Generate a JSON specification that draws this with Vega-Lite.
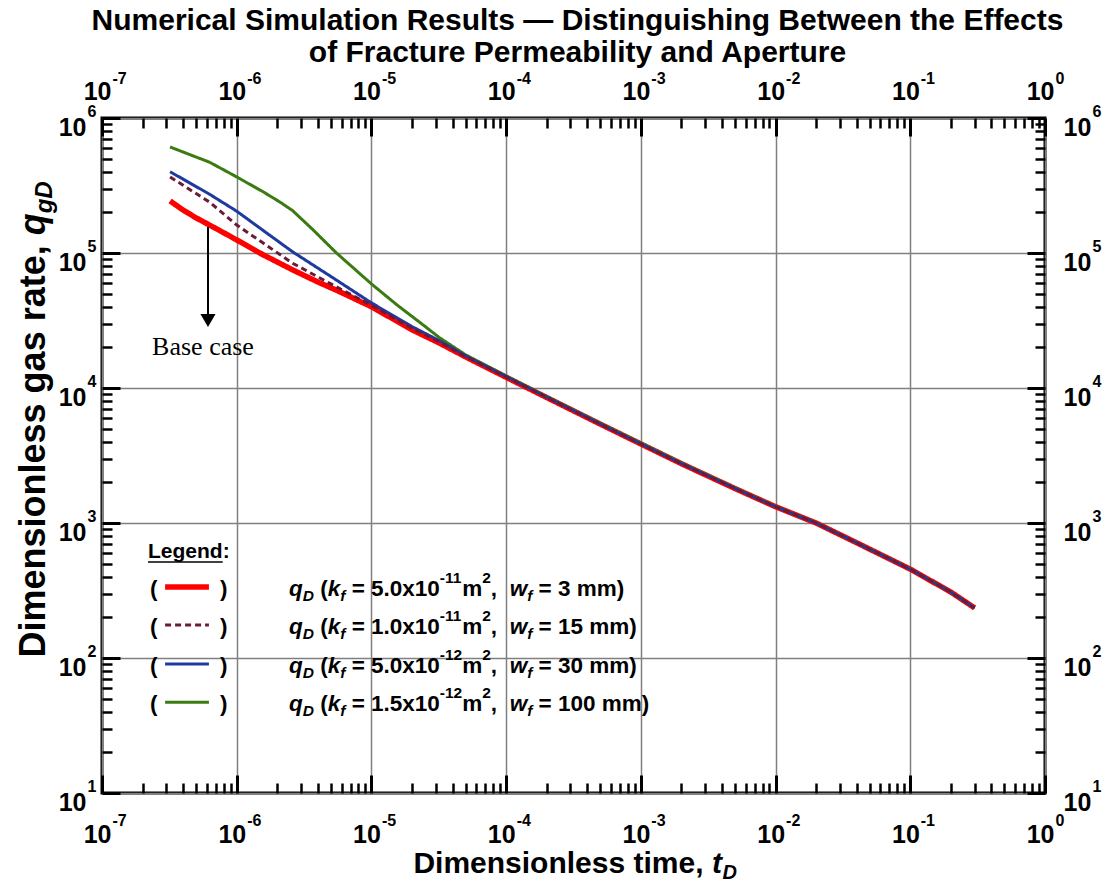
{
  "$schema": "https://vega.github.io/schema/vega-lite/v6.json",
  "width": 943,
  "height": 675,
  "autosize": "none",
  "padding": {"left": 102, "top": 118, "right": 62, "bottom": 95},
  "background": "white",
  "title": {
    "text": ["Numerical Simulation Results — Distinguishing Between the Effects", "of Fracture Permeability and Aperture"],
    "fontSize": 30, "fontWeight": "bold", "font": "Liberation Sans", "color": "black",
    "anchor": "middle", "frame": "group", "lineHeight": 32, "offset": 2, "dx": 4
  },
  "config": {
    "view": {"stroke": "black", "strokeWidth": 3},
    "font": "Liberation Sans",
    "axis": {
      "labelFont": "Liberation Sans", "labelFontWeight": "bold", "labelColor": "black",
      "titleFont": "Liberation Sans", "titleFontWeight": "bold", "titleColor": "black",
      "labelFlush": false, "labelOverlap": false, "labelBound": false,
      "domain": false, "grid": false, "ticks": false,
      "tickColor": "black", "tickWidth": 2.5
    }
  },
  "datasets": {
    "lines": [
      {"series": "A", "t": 3.2e-7, "q": 243000}, {"series": "A", "t": 4e-7, "q": 208000}, {"series": "A", "t": 5e-7, "q": 182000}, {"series": "A", "t": 7e-7, "q": 152000}, {"series": "A", "t": 1e-6, "q": 125000}, {"series": "A", "t": 1.57e-6, "q": 97000}, {"series": "A", "t": 2.6e-6, "q": 75000}, {"series": "A", "t": 4e-6, "q": 61000}, {"series": "A", "t": 5.5e-6, "q": 53000}, {"series": "A", "t": 1e-5, "q": 40000}, {"series": "A", "t": 2e-5, "q": 27000}, {"series": "A", "t": 3.2e-5, "q": 21500}, {"series": "A", "t": 5e-5, "q": 17000}, {"series": "A", "t": 1e-4, "q": 12000}, {"series": "A", "t": 2e-4, "q": 8500}, {"series": "A", "t": 5e-4, "q": 5400}, {"series": "A", "t": 1e-3, "q": 3850}, {"series": "A", "t": 2e-3, "q": 2750}, {"series": "A", "t": 5e-3, "q": 1800}, {"series": "A", "t": 1e-2, "q": 1320}, {"series": "A", "t": 2e-2, "q": 1000}, {"series": "A", "t": 5e-2, "q": 640}, {"series": "A", "t": 0.1, "q": 455}, {"series": "A", "t": 0.2, "q": 308}, {"series": "A", "t": 0.3, "q": 235},
      {"series": "D", "t": 3.2e-7, "q": 610000}, {"series": "D", "t": 6.3e-7, "q": 470000}, {"series": "D", "t": 1e-6, "q": 366000}, {"series": "D", "t": 1.57e-6, "q": 284000}, {"series": "D", "t": 2.1e-6, "q": 238000}, {"series": "D", "t": 2.6e-6, "q": 206000}, {"series": "D", "t": 3.7e-6, "q": 148000}, {"series": "D", "t": 5.5e-6, "q": 100000}, {"series": "D", "t": 1e-5, "q": 59000}, {"series": "D", "t": 1.55e-5, "q": 41200}, {"series": "D", "t": 2.4e-5, "q": 29500}, {"series": "D", "t": 3.2e-5, "q": 23600}, {"series": "D", "t": 5e-5, "q": 17600}, {"series": "D", "t": 1e-4, "q": 12300}, {"series": "D", "t": 2e-4, "q": 8650}, {"series": "D", "t": 5e-4, "q": 5480}, {"series": "D", "t": 1e-3, "q": 3920}, {"series": "D", "t": 2e-3, "q": 2790}, {"series": "D", "t": 5e-3, "q": 1820}, {"series": "D", "t": 1e-2, "q": 1325}, {"series": "D", "t": 2e-2, "q": 1002}, {"series": "D", "t": 5e-2, "q": 641}, {"series": "D", "t": 0.1, "q": 456}, {"series": "D", "t": 0.2, "q": 308}, {"series": "D", "t": 0.3, "q": 235},
      {"series": "C", "t": 3.2e-7, "q": 400000}, {"series": "C", "t": 6.3e-7, "q": 272000}, {"series": "C", "t": 1e-6, "q": 204000}, {"series": "C", "t": 1.6e-6, "q": 145000}, {"series": "C", "t": 2.6e-6, "q": 102000}, {"series": "C", "t": 5e-6, "q": 67000}, {"series": "C", "t": 1e-5, "q": 42700}, {"series": "C", "t": 2e-5, "q": 28500}, {"series": "C", "t": 3.2e-5, "q": 22400}, {"series": "C", "t": 5e-5, "q": 17300}, {"series": "C", "t": 1e-4, "q": 12150}, {"series": "C", "t": 2e-4, "q": 8560}, {"series": "C", "t": 5e-4, "q": 5420}, {"series": "C", "t": 1e-3, "q": 3860}, {"series": "C", "t": 2e-3, "q": 2760}, {"series": "C", "t": 5e-3, "q": 1805}, {"series": "C", "t": 1e-2, "q": 1320}, {"series": "C", "t": 2e-2, "q": 1000}, {"series": "C", "t": 5e-2, "q": 640}, {"series": "C", "t": 0.1, "q": 455}, {"series": "C", "t": 0.2, "q": 308}, {"series": "C", "t": 0.3, "q": 235},
      {"series": "B", "t": 3.2e-7, "q": 366000}, {"series": "B", "t": 6.3e-7, "q": 238000}, {"series": "B", "t": 1e-6, "q": 161000}, {"series": "B", "t": 1.6e-6, "q": 117000}, {"series": "B", "t": 2.6e-6, "q": 84000}, {"series": "B", "t": 5e-6, "q": 59000}, {"series": "B", "t": 1e-5, "q": 41000}, {"series": "B", "t": 2e-5, "q": 27700}, {"series": "B", "t": 3.2e-5, "q": 21900}, {"series": "B", "t": 5e-5, "q": 17150}, {"series": "B", "t": 1e-4, "q": 12100}, {"series": "B", "t": 2e-4, "q": 8540}, {"series": "B", "t": 5e-4, "q": 5410}, {"series": "B", "t": 1e-3, "q": 3855}, {"series": "B", "t": 2e-3, "q": 2755}, {"series": "B", "t": 5e-3, "q": 1802}, {"series": "B", "t": 1e-2, "q": 1320}, {"series": "B", "t": 2e-2, "q": 1000}, {"series": "B", "t": 5e-2, "q": 640}, {"series": "B", "t": 0.1, "q": 455}, {"series": "B", "t": 0.2, "q": 308}, {"series": "B", "t": 0.3, "q": 235}
    ],
    "legend": [
      {"series": "A", "qb": 287.7, "kpre": "= 5.0x10", "kexp": "-11", "wtxt": "= 3 mm)"},
      {"series": "B", "qb": 150.6, "kpre": "= 1.0x10", "kexp": "-11", "wtxt": "= 15 mm)"},
      {"series": "C", "qb": 77.4, "kpre": "= 5.0x10", "kexp": "-12", "wtxt": "= 30 mm)"},
      {"series": "D", "qb": 40.4, "kpre": "= 1.5x10", "kexp": "-12", "wtxt": "= 100 mm)"}
    ],
    "notes": [
      {"t": 2.196e-7, "q": 550.6, "label": "Legend:"}
    ],
    "arrow": [
      {"t": 6.12e-7, "qtop": 156000, "qbot": 35300, "qhead": 31600, "tlab": 5.62e-7, "qlab": 17540, "label": "Base case"}
    ]
  },
  "resolve": {"axis": {"x": "independent", "y": "independent"}},
  "layer": [
    {
      "data": {"name": "lines"},
      "mark": {"type": "line", "clip": true},
      "encoding": {
        "x": {"field": "t", "type": "quantitative", "scale": {"type": "log", "domain": [1e-7, 1], "nice": false},
          "axis": {"orient": "bottom", "values": [1e-7, 1e-6, 1e-5, 1e-4, 0.001, 0.01, 0.1, 1], "labelExpr": "'10'", "labelFontSize": 25, "labelAlign": "right", "labelOffset": 9, "labelBaseline": "alphabetic", "labelPadding": 49,
            "grid": true, "gridColor": "#808080", "gridWidth": 1.5,
            "title": "Dimensionless time,", "titleFontSize": 30, "titleX": 601, "titleY": 79, "titleAlign": "right", "titleBaseline": "alphabetic", "titleAngle": 0}},
        "y": {"field": "q", "type": "quantitative", "scale": {"type": "log", "domain": [10, 1000000], "nice": false},
          "axis": {"orient": "left", "values": [10, 100, 1000, 10000, 100000, 1000000], "labelExpr": "'10'", "labelFontSize": 25, "labelAlign": "right", "labelOffset": 17, "labelBaseline": "alphabetic", "labelPadding": 16,
            "grid": true, "gridColor": "#808080", "gridWidth": 1.5,
            "title": "Dimensionless gas rate,", "titleFontSize": 36, "titleX": -58, "titleY": 126.8, "titleAlign": "right", "titleBaseline": "alphabetic", "titleAngle": 270}},
        "color": {"field": "series", "type": "nominal", "scale": {"domain": ["A", "B", "C", "D"], "range": ["#ff0000", "#6b1a3a", "#1f3a9e", "#3c7a12"]}, "legend": null},
        "strokeDash": {"condition": {"test": "datum.series === 'B'", "value": [6, 4]}, "value": [1, 0]},
        "strokeWidth": {"condition": {"test": "datum.series === 'A'", "value": 5.5}, "value": 3}
      }
    },
    {
      "data": {"name": "lines"},
      "mark": {"type": "point", "opacity": 0, "size": 0},
      "encoding": {
        "x": {"field": "t", "type": "quantitative", "scale": {"type": "log", "domain": [1e-7, 1], "nice": false},
          "axis": {"orient": "bottom", "values": [1e-7, 1e-6, 1e-5, 1e-4, 0.001, 0.01, 0.1, 1], "labelExpr": "'' + round(log(datum.value) / LN10)", "labelFontSize": 16, "labelAlign": "left", "labelOffset": 10, "labelBaseline": "alphabetic", "labelPadding": 32,
            "title": "t", "titleFontSize": 30, "titleFontStyle": "italic", "titleX": 609.4, "titleY": 79, "titleAlign": "left", "titleBaseline": "alphabetic", "titleAngle": 0}},
        "y": {"field": "q", "type": "quantitative", "scale": {"type": "log", "domain": [10, 1000000], "nice": false},
          "axis": {"orient": "left", "values": [10, 100, 1000, 10000, 100000, 1000000], "labelExpr": "'' + round(log(datum.value) / LN10)", "labelFontSize": 16, "labelAlign": "right", "labelOffset": -2, "labelBaseline": "alphabetic", "labelPadding": 6,
            "title": "q", "titleFontSize": 36, "titleFontStyle": "italic", "titleX": -58, "titleY": 116.8, "titleAlign": "left", "titleBaseline": "alphabetic", "titleAngle": 270}}
      }
    },
    {
      "data": {"name": "lines"},
      "mark": {"type": "point", "opacity": 0, "size": 0},
      "encoding": {
        "x": {"field": "t", "type": "quantitative", "scale": {"type": "log", "domain": [1e-7, 1], "nice": false},
          "axis": {"orient": "top", "values": [1e-7, 1e-6, 1e-5, 1e-4, 0.001, 0.01, 0.1, 1], "labelExpr": "'10'", "labelFontSize": 25, "labelAlign": "right", "labelOffset": 9, "labelBaseline": "alphabetic", "labelPadding": 19,
            "title": "D", "titleFontSize": 20, "titleFontStyle": "italic", "titleX": 619.9, "titleY": 760, "titleAlign": "left", "titleBaseline": "alphabetic", "titleAngle": 0}},
        "y": {"field": "q", "type": "quantitative", "scale": {"type": "log", "domain": [10, 1000000], "nice": false},
          "axis": {"orient": "right", "values": [10, 100, 1000, 10000, 100000, 1000000], "labelExpr": "'10'", "labelFontSize": 25, "labelAlign": "left", "labelOffset": 17, "labelBaseline": "alphabetic", "labelPadding": 18, "title": null}}
      }
    },
    {
      "data": {"name": "lines"},
      "mark": {"type": "point", "opacity": 0, "size": 0},
      "encoding": {
        "x": {"field": "t", "type": "quantitative", "scale": {"type": "log", "domain": [1e-7, 1], "nice": false},
          "axis": {"orient": "top", "values": [1e-7, 1e-6, 1e-5, 1e-4, 0.001, 0.01, 0.1, 1], "labelExpr": "'' + round(log(datum.value) / LN10)", "labelFontSize": 16, "labelAlign": "left", "labelOffset": 10, "labelBaseline": "alphabetic", "labelPadding": 35, "title": null}},
        "y": {"field": "q", "type": "quantitative", "scale": {"type": "log", "domain": [10, 1000000], "nice": false},
          "axis": {"orient": "right", "values": [10, 100, 1000, 10000, 100000, 1000000], "labelExpr": "'' + round(log(datum.value) / LN10)", "labelFontSize": 16, "labelAlign": "left", "labelOffset": -2, "labelBaseline": "alphabetic", "labelPadding": 47,
            "title": "gD", "titleFontSize": 24, "titleFontStyle": "italic", "titleX": -994, "titleY": 94.8, "titleAlign": "left", "titleBaseline": "alphabetic", "titleAngle": 270}}
      }
    },
    {
      "data": {"name": "lines"},
      "mark": {"type": "point", "opacity": 0, "size": 0},
      "encoding": {
        "x": {"field": "t", "type": "quantitative", "scale": {"type": "log", "domain": [1e-7, 1], "nice": false},
          "axis": {"orient": "bottom", "values": [1e-7, 1e-6, 1e-5, 1e-4, 0.001, 0.01, 0.1, 1], "labels": false, "ticks": true, "tickSize": 18, "tickWidth": 3, "offset": -18, "title": null}},
        "y": {"field": "q", "type": "quantitative", "scale": {"type": "log", "domain": [10, 1000000], "nice": false},
          "axis": {"orient": "left", "values": [10, 100, 1000, 10000, 100000, 1000000], "labels": false, "ticks": true, "tickSize": 18, "tickWidth": 3, "offset": -18, "title": null}}
      }
    },
    {
      "data": {"name": "lines"},
      "mark": {"type": "point", "opacity": 0, "size": 0},
      "encoding": {
        "x": {"field": "t", "type": "quantitative", "scale": {"type": "log", "domain": [1e-7, 1], "nice": false},
          "axis": {"orient": "top", "values": [1e-7, 1e-6, 1e-5, 1e-4, 0.001, 0.01, 0.1, 1], "labels": false, "ticks": true, "tickSize": 18, "tickWidth": 3, "offset": -18, "title": null}},
        "y": {"field": "q", "type": "quantitative", "scale": {"type": "log", "domain": [10, 1000000], "nice": false},
          "axis": {"orient": "right", "values": [10, 100, 1000, 10000, 100000, 1000000], "labels": false, "ticks": true, "tickSize": 18, "tickWidth": 3, "offset": -18, "title": null}}
      }
    },
    {
      "data": {"name": "lines"},
      "mark": {"type": "point", "opacity": 0, "size": 0},
      "encoding": {
        "x": {"field": "t", "type": "quantitative", "scale": {"type": "log", "domain": [1e-7, 1], "nice": false},
          "axis": {"orient": "bottom", "values": [2e-7, 3e-7, 4e-7, 5e-7, 6e-7, 7e-7, 8e-7, 9e-7, 2e-6, 3e-6, 4e-6, 5e-6, 6e-6, 7e-6, 8e-6, 9e-6, 2e-5, 3e-5, 4e-5, 5e-5, 6e-5, 7e-5, 8e-5, 9e-5, 2e-4, 3e-4, 4e-4, 5e-4, 6e-4, 7e-4, 8e-4, 9e-4, 2e-3, 3e-3, 4e-3, 5e-3, 6e-3, 7e-3, 8e-3, 9e-3, 0.02, 0.03, 0.04, 0.05, 0.06, 0.07, 0.08, 0.09, 0.2, 0.3, 0.4, 0.5, 0.6, 0.7, 0.8, 0.9], "labels": false, "ticks": true, "tickSize": 10, "offset": -10, "title": null}},
        "y": {"field": "q", "type": "quantitative", "scale": {"type": "log", "domain": [10, 1000000], "nice": false},
          "axis": {"orient": "left", "values": [20, 30, 40, 50, 60, 70, 80, 90, 200, 300, 400, 500, 600, 700, 800, 900, 2000, 3000, 4000, 5000, 6000, 7000, 8000, 9000, 20000, 30000, 40000, 50000, 60000, 70000, 80000, 90000, 200000, 300000, 400000, 500000, 600000, 700000, 800000, 900000], "labels": false, "ticks": true, "tickSize": 10, "offset": -10, "title": null}}
      }
    },
    {
      "data": {"name": "lines"},
      "mark": {"type": "point", "opacity": 0, "size": 0},
      "encoding": {
        "x": {"field": "t", "type": "quantitative", "scale": {"type": "log", "domain": [1e-7, 1], "nice": false},
          "axis": {"orient": "top", "values": [2e-7, 3e-7, 4e-7, 5e-7, 6e-7, 7e-7, 8e-7, 9e-7, 2e-6, 3e-6, 4e-6, 5e-6, 6e-6, 7e-6, 8e-6, 9e-6, 2e-5, 3e-5, 4e-5, 5e-5, 6e-5, 7e-5, 8e-5, 9e-5, 2e-4, 3e-4, 4e-4, 5e-4, 6e-4, 7e-4, 8e-4, 9e-4, 2e-3, 3e-3, 4e-3, 5e-3, 6e-3, 7e-3, 8e-3, 9e-3, 0.02, 0.03, 0.04, 0.05, 0.06, 0.07, 0.08, 0.09, 0.2, 0.3, 0.4, 0.5, 0.6, 0.7, 0.8, 0.9], "labels": false, "ticks": true, "tickSize": 10, "offset": -10, "title": null}},
        "y": {"field": "q", "type": "quantitative", "scale": {"type": "log", "domain": [10, 1000000], "nice": false},
          "axis": {"orient": "right", "values": [20, 30, 40, 50, 60, 70, 80, 90, 200, 300, 400, 500, 600, 700, 800, 900, 2000, 3000, 4000, 5000, 6000, 7000, 8000, 9000, 20000, 30000, 40000, 50000, 60000, 70000, 80000, 90000, 200000, 300000, 400000, 500000, 600000, 700000, 800000, 900000], "labels": false, "ticks": true, "tickSize": 10, "offset": -10, "title": null}}
      }
    },
    {
      "data": {"name": "arrow"},
      "mark": {"type": "rule", "color": "black", "strokeWidth": 2},
      "encoding": {
        "x": {"field": "t", "type": "quantitative", "axis": null},
        "y": {"field": "qtop", "type": "quantitative", "axis": null},
        "y2": {"field": "qbot"}
      }
    },
    {
      "data": {"name": "arrow"},
      "mark": {"type": "point", "shape": "triangle-down", "filled": true, "color": "black", "opacity": 1, "size": 230},
      "encoding": {
        "x": {"field": "t", "type": "quantitative", "axis": null},
        "y": {"field": "qhead", "type": "quantitative", "axis": null}
      }
    },
    {
      "data": {"name": "arrow"},
      "mark": {"type": "text", "font": "Liberation Serif", "fontSize": 26, "align": "center", "baseline": "alphabetic", "color": "black"},
      "encoding": {
        "x": {"field": "tlab", "type": "quantitative", "axis": null},
        "y": {"field": "qlab", "type": "quantitative", "axis": null},
        "text": {"field": "label"}
      }
    },
    {
      "data": {"name": "notes"},
      "mark": {"type": "text", "font": "Liberation Sans", "fontWeight": "bold", "fontSize": 21, "align": "left", "baseline": "alphabetic", "color": "black"},
      "encoding": {
        "x": {"field": "t", "type": "quantitative", "axis": null},
        "y": {"field": "q", "type": "quantitative", "axis": null},
        "text": {"field": "label"}
      }
    },
    {
      "data": {"name": "notes"},
      "mark": {"type": "rule", "color": "black", "strokeWidth": 1.5},
      "encoding": {
        "x": {"datum": 2.196e-7, "type": "quantitative", "axis": null},
        "x2": {"datum": 7.87e-7},
        "y": {"datum": 514, "type": "quantitative", "axis": null}
      }
    },
    {
      "data": {"name": "legend"},
      "mark": {"type": "rule", "yOffset": -9},
      "encoding": {
        "x": {"datum": 2.94e-7, "type": "quantitative", "axis": null},
        "x2": {"datum": 6.22e-7},
        "y": {"field": "qb", "type": "quantitative", "axis": null},
        "color": {"field": "series", "type": "nominal", "scale": {"domain": ["A", "B", "C", "D"], "range": ["#ff0000", "#6b1a3a", "#1f3a9e", "#3c7a12"]}, "legend": null},
        "strokeDash": {"condition": {"test": "datum.series === 'B'", "value": [6, 4]}, "value": [1, 0]},
        "strokeWidth": {"condition": {"test": "datum.series === 'A'", "value": 5.5}, "value": 3}
      }
    },
    {
      "data": {"name": "legend"},
      "mark": {"type": "text", "text": "(", "font": "Liberation Sans", "fontWeight": "bold", "fontSize": 22.5, "align": "left", "baseline": "alphabetic", "color": "black"},
      "encoding": {"x": {"datum": 2.27e-7, "type": "quantitative", "axis": null}, "y": {"field": "qb", "type": "quantitative", "axis": null}}
    },
    {
      "data": {"name": "legend"},
      "mark": {"type": "text", "text": ")", "font": "Liberation Sans", "fontWeight": "bold", "fontSize": 22.5, "align": "left", "baseline": "alphabetic", "color": "black"},
      "encoding": {"x": {"datum": 7.52e-7, "type": "quantitative", "axis": null}, "y": {"field": "qb", "type": "quantitative", "axis": null}}
    },
    {
      "data": {"name": "legend"},
      "mark": {"type": "text", "text": "q", "fontStyle": "italic", "font": "Liberation Sans", "fontWeight": "bold", "fontSize": 22.5, "align": "left", "baseline": "alphabetic", "color": "black", "dx": 0},
      "encoding": {"x": {"datum": 2.445e-6, "type": "quantitative", "axis": null}, "y": {"field": "qb", "type": "quantitative", "axis": null}}
    },
    {
      "data": {"name": "legend"},
      "mark": {"type": "text", "text": "D", "fontStyle": "italic", "font": "Liberation Sans", "fontWeight": "bold", "fontSize": 15.5, "align": "left", "baseline": "alphabetic", "color": "black", "dx": 13.75, "dy": 5},
      "encoding": {"x": {"datum": 2.445e-6, "type": "quantitative", "axis": null}, "y": {"field": "qb", "type": "quantitative", "axis": null}}
    },
    {
      "data": {"name": "legend"},
      "mark": {"type": "text", "text": "(", "font": "Liberation Sans", "fontWeight": "bold", "fontSize": 22.5, "align": "left", "baseline": "alphabetic", "color": "black", "dx": 31.2},
      "encoding": {"x": {"datum": 2.445e-6, "type": "quantitative", "axis": null}, "y": {"field": "qb", "type": "quantitative", "axis": null}}
    },
    {
      "data": {"name": "legend"},
      "mark": {"type": "text", "text": "k", "fontStyle": "italic", "font": "Liberation Sans", "fontWeight": "bold", "fontSize": 22.5, "align": "left", "baseline": "alphabetic", "color": "black", "dx": 38.69},
      "encoding": {"x": {"datum": 2.445e-6, "type": "quantitative", "axis": null}, "y": {"field": "qb", "type": "quantitative", "axis": null}}
    },
    {
      "data": {"name": "legend"},
      "mark": {"type": "text", "text": "f", "fontStyle": "italic", "font": "Liberation Sans", "fontWeight": "bold", "fontSize": 15.5, "align": "left", "baseline": "alphabetic", "color": "black", "dx": 51.2, "dy": 5},
      "encoding": {"x": {"datum": 2.445e-6, "type": "quantitative", "axis": null}, "y": {"field": "qb", "type": "quantitative", "axis": null}}
    },
    {
      "data": {"name": "legend"},
      "mark": {"type": "text", "font": "Liberation Sans", "fontWeight": "bold", "fontSize": 22.5, "align": "left", "baseline": "alphabetic", "color": "black", "dx": 62.62},
      "encoding": {"x": {"datum": 2.445e-6, "type": "quantitative", "axis": null}, "y": {"field": "qb", "type": "quantitative", "axis": null}, "text": {"field": "kpre"}}
    },
    {
      "data": {"name": "legend"},
      "mark": {"type": "text", "font": "Liberation Sans", "fontWeight": "bold", "fontSize": 15.5, "align": "left", "baseline": "alphabetic", "color": "black", "dx": 150.82, "dy": -13},
      "encoding": {"x": {"datum": 2.445e-6, "type": "quantitative", "axis": null}, "y": {"field": "qb", "type": "quantitative", "axis": null}, "text": {"field": "kexp"}}
    },
    {
      "data": {"name": "legend"},
      "mark": {"type": "text", "text": "m", "font": "Liberation Sans", "fontWeight": "bold", "fontSize": 22.5, "align": "left", "baseline": "alphabetic", "color": "black", "dx": 173.22},
      "encoding": {"x": {"datum": 2.445e-6, "type": "quantitative", "axis": null}, "y": {"field": "qb", "type": "quantitative", "axis": null}}
    },
    {
      "data": {"name": "legend"},
      "mark": {"type": "text", "text": "2", "font": "Liberation Sans", "fontWeight": "bold", "fontSize": 15.5, "align": "left", "baseline": "alphabetic", "color": "black", "dx": 193.22, "dy": -13},
      "encoding": {"x": {"datum": 2.445e-6, "type": "quantitative", "axis": null}, "y": {"field": "qb", "type": "quantitative", "axis": null}}
    },
    {
      "data": {"name": "legend"},
      "mark": {"type": "text", "text": ",", "font": "Liberation Sans", "fontWeight": "bold", "fontSize": 22.5, "align": "left", "baseline": "alphabetic", "color": "black", "dx": 201.84},
      "encoding": {"x": {"datum": 2.445e-6, "type": "quantitative", "axis": null}, "y": {"field": "qb", "type": "quantitative", "axis": null}}
    },
    {
      "data": {"name": "legend"},
      "mark": {"type": "text", "text": "w", "fontStyle": "italic", "font": "Liberation Sans", "fontWeight": "bold", "fontSize": 22.5, "align": "left", "baseline": "alphabetic", "color": "black", "dx": 220.61},
      "encoding": {"x": {"datum": 2.445e-6, "type": "quantitative", "axis": null}, "y": {"field": "qb", "type": "quantitative", "axis": null}}
    },
    {
      "data": {"name": "legend"},
      "mark": {"type": "text", "text": "f", "fontStyle": "italic", "font": "Liberation Sans", "fontWeight": "bold", "fontSize": 15.5, "align": "left", "baseline": "alphabetic", "color": "black", "dx": 238.11, "dy": 5},
      "encoding": {"x": {"datum": 2.445e-6, "type": "quantitative", "axis": null}, "y": {"field": "qb", "type": "quantitative", "axis": null}}
    },
    {
      "data": {"name": "legend"},
      "mark": {"type": "text", "font": "Liberation Sans", "fontWeight": "bold", "fontSize": 22.5, "align": "left", "baseline": "alphabetic", "color": "black", "dx": 249.53},
      "encoding": {"x": {"datum": 2.445e-6, "type": "quantitative", "axis": null}, "y": {"field": "qb", "type": "quantitative", "axis": null}, "text": {"field": "wtxt"}}
    }
  ]
}
